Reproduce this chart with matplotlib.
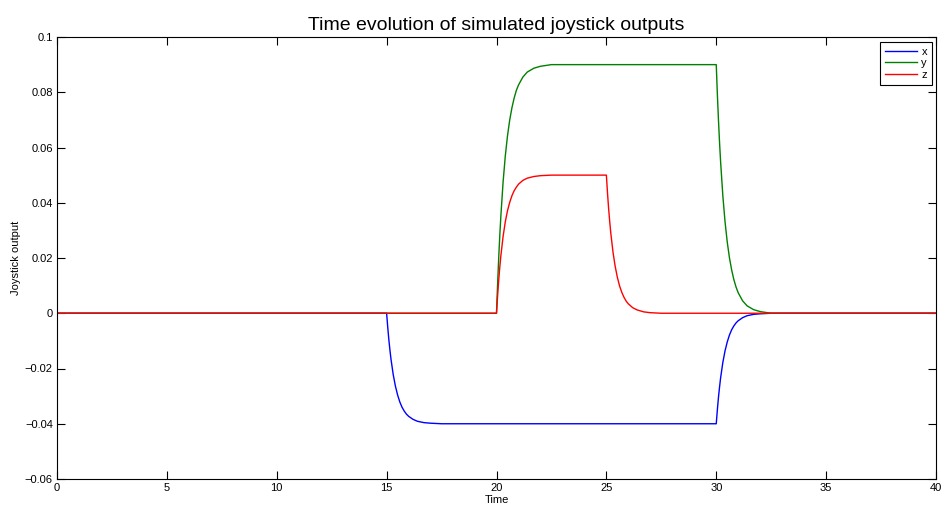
import matplotlib
matplotlib.use("Agg")
import matplotlib.pyplot as plt

plt.rcParams['font.family'] = ['Liberation Sans', 'DejaVu Sans']

# time grid (s): flat, then sampled around each step change
time = [0,
        15, 15.05, 15.1, 15.15, 15.2, 15.3, 15.4, 15.5, 15.6, 15.7, 15.8, 15.9, 16.0, 16.2, 16.4, 16.7, 17.0, 17.5,
        20, 20.05, 20.1, 20.15, 20.2, 20.3, 20.4, 20.5, 20.6, 20.7, 20.8, 20.9, 21.0, 21.2, 21.4, 21.7, 22.0, 22.5,
        25, 25.05, 25.1, 25.15, 25.2, 25.3, 25.4, 25.5, 25.6, 25.7, 25.8, 25.9, 26.0, 26.2, 26.4, 26.7, 27.0, 27.5,
        30, 30.05, 30.1, 30.15, 30.2, 30.3, 30.4, 30.5, 30.6, 30.7, 30.8, 30.9, 31.0, 31.2, 31.4, 31.7, 32.0, 32.5,
        40]

flat0 = [0] * 18
x_out = ([0] +
         [0, -0.0050, -0.0095, -0.0133, -0.0167, -0.0222, -0.0264, -0.0296, -0.0321,
          -0.0340, -0.0354, -0.0365, -0.0373, -0.0384, -0.0391, -0.0396, -0.0398, -0.04] +
         [-0.04] * 18 +
         [-0.04] * 18 +
         [-0.04, -0.0350, -0.0305, -0.0267, -0.0233, -0.0178, -0.0136, -0.0104, -0.0079,
          -0.0060, -0.0046, -0.0035, -0.0027, -0.0016, -0.0009, -0.0004, -0.0002, 0] +
         [0])

y_out = ([0] +
         flat0 +
         [0, 0.0106, 0.0199, 0.0282, 0.0354, 0.0475, 0.0569, 0.0642, 0.0699,
          0.0743, 0.0778, 0.0806, 0.0826, 0.0855, 0.0873, 0.0887, 0.0894, 0.09] +
         [0.09] * 18 +
         [0.09, 0.0794, 0.0701, 0.0618, 0.0546, 0.0425, 0.0331, 0.0258, 0.0201,
          0.0157, 0.0122, 0.0095, 0.0074, 0.0045, 0.0027, 0.0013, 0.0006, 0] +
         [0])

z_out = ([0] +
         flat0 +
         [0, 0.0063, 0.0119, 0.0167, 0.0209, 0.0278, 0.0331, 0.0371, 0.0401,
          0.0425, 0.0443, 0.0456, 0.0467, 0.0481, 0.0489, 0.0495, 0.0498, 0.05] +
         [0.05, 0.0437, 0.0381, 0.0334, 0.0291, 0.0222, 0.0170, 0.0130, 0.0099,
          0.0076, 0.0058, 0.0044, 0.0034, 0.0020, 0.0012, 0.0005, 0.0002, 0] +
         flat0 +
         [0])

x_ticks = [0, 5, 10, 15, 20, 25, 30, 35, 40]
y_ticks = [-0.06, -0.04, -0.02, 0, 0.02, 0.04, 0.06, 0.08, 0.1]
y_labels = ['\u22120.06', '\u22120.04', '\u22120.02', '0', '0.02', '0.04', '0.06', '0.08', '0.1']

fig = plt.figure(figsize=(9.46, 5.09), dpi=100)
ax = fig.add_axes([57 / 946, 30 / 509, 879 / 946, 442 / 509])

ax.plot(time, x_out, color='#0000ff', lw=1, label='x')
ax.plot(time, y_out, color='#008000', lw=1, label='y')
ax.plot(time, z_out, color='#ff0000', lw=1, label='z')

ax.set_xlim(0, 40)
ax.set_ylim(-0.06, 0.1)
ax.set_xticks(x_ticks)
ax.set_yticks(y_ticks)
ax.set_yticklabels(y_labels)
ax.tick_params(direction='in', length=5.5, width=0.8, labelsize=8,
               top=True, right=True, pad=3)
for s in ax.spines.values():
    s.set_linewidth(0.8)

ax.set_title('Time evolution of simulated joystick outputs', fontsize=14, pad=5)
ax.set_xlabel('Time', fontsize=8, labelpad=1)
ax.set_ylabel('Joystick output', fontsize=8, labelpad=3)

leg = ax.legend(loc='upper right', bbox_to_anchor=(0.9955, 0.989), fontsize=8,
                fancybox=False, framealpha=1, edgecolor='black',
                handlelength=2.9, handletextpad=0.4, labelspacing=0.12,
                borderpad=0.45, borderaxespad=0)
leg.get_frame().set_linewidth(0.8)

fig.savefig('out.png', dpi=100)
